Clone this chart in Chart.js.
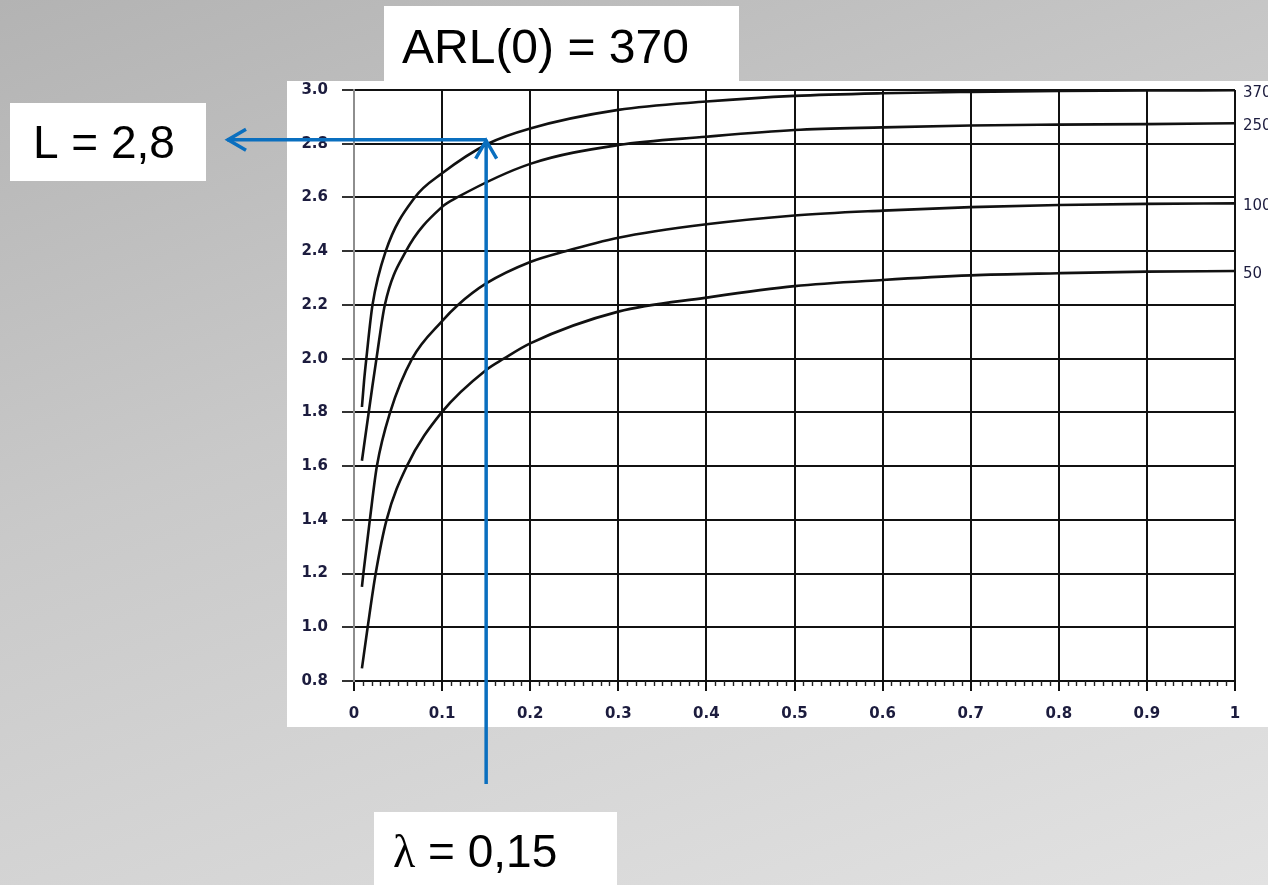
<!DOCTYPE html>
<html>
<head>
<meta charset="utf-8">
<script src="https://cdn.jsdelivr.net/npm/chart.js@4.4.1/dist/chart.umd.min.js"></script>
<style>
  html, body { margin: 0; padding: 0; }
  body {
    width: 1268px; height: 885px; overflow: hidden;
    background: linear-gradient(160deg, #b3b3b3 0%, #c9c9c9 40%, #e2e2e2 100%);
  }
  canvas { display: block; }
</style>
</head>
<body>
<canvas id="chart" width="1268" height="885"></canvas>
<script>
// EWMA design chart: control-limit width L against smoothing constant λ,
// one curve per in-control average run length ARL(0).
const arlLabels = ['370', '250', '100', '50'];

const lambda370 = [0.009, 0.0115, 0.014, 0.021, 0.036, 0.069, 0.1, 0.152, 0.2, 0.3, 0.4, 0.5, 0.6, 0.7, 0.8, 0.9, 1.0];
const limit370  = [1.82, 1.92, 2.0, 2.2, 2.4, 2.6, 2.69, 2.8, 2.857, 2.926, 2.957, 2.978, 2.988, 2.993, 2.996, 2.998, 2.999];

const lambda250 = [0.009, 0.021, 0.0255, 0.035, 0.059, 0.1, 0.117, 0.2, 0.3, 0.4, 0.5, 0.6, 0.7, 0.8, 0.9, 1.0];
const limit250  = [1.62, 1.90, 2.0, 2.2, 2.4, 2.565, 2.6, 2.725, 2.795, 2.826, 2.851, 2.861, 2.868, 2.871, 2.873, 2.876];

const lambda100 = [0.009, 0.0106, 0.018, 0.026, 0.041, 0.066, 0.1, 0.118, 0.15, 0.2, 0.24, 0.3, 0.4, 0.5, 0.6, 0.7, 0.8, 0.9, 1.0];
const limit100  = [1.15, 1.2, 1.4, 1.6, 1.8, 2.0, 2.14, 2.2, 2.28, 2.36, 2.4, 2.45, 2.50, 2.533, 2.551, 2.564, 2.572, 2.576, 2.578];

const lambda50 = [0.009, 0.0155, 0.0246, 0.037, 0.06, 0.0995, 0.15, 0.17, 0.2, 0.3, 0.4, 0.5, 0.6, 0.7, 0.8, 0.9, 1.0];
const limit50  = [0.847, 1.0, 1.2, 1.4, 1.6, 1.8, 1.958, 2.0, 2.057, 2.175, 2.227, 2.27, 2.293, 2.31, 2.318, 2.324, 2.326];

const xTickLabels = ['0', '0.1', '0.2', '0.3', '0.4', '0.5', '0.6', '0.7', '0.8', '0.9', '1'];
const yTickLabels = ['0.8', '1.0', '1.2', '1.4', '1.6', '1.8', '2.0', '2.2', '2.4', '2.6', '2.8', '3.0'];

// Chosen design point
const chosenLambda = 0.15;
const chosenL = 2.8;
const titleText = 'ARL(0) = 370';
const limitText = 'L = 2,8';
const lambdaSymbol = 'λ';
const lambdaText = ' = 0,15';

const curves = [
  [lambda370, limit370],
  [lambda250, limit250],
  [lambda100, limit100],
  [lambda50, limit50]
];

const INK = '#111111';
const LABEL_INK = '#1c1c3e';
const BLUE = '#0a6fbf';
const SANS = '"Liberation Sans", Arial, sans-serif';
const TICK_FONT = { family: '"DejaVu Sans", sans-serif', size: 15, weight: 'bold' };

const datasets = curves.map(([xs, ys], i) => ({
  label: arlLabels[i],
  data: xs.map((x, k) => ({ x: x, y: ys[k] })),
  borderColor: INK,
  borderWidth: 2.6,
  pointRadius: 0,
  fill: false,
  cubicInterpolationMode: 'monotone'
}));

// White sheet behind the plot
const sheetPlugin = {
  id: 'sheet',
  beforeDraw(chart) {
    const { ctx, chartArea: a } = chart;
    ctx.save();
    ctx.fillStyle = '#ffffff';
    ctx.fillRect(a.left - 67, a.top - 9, chart.width - (a.left - 67), a.bottom - a.top + 55);
    ctx.restore();
  }
};

// Minor ticks along the λ axis, labels at the curve ends, and the design-point annotation
const overlayPlugin = {
  id: 'overlay',
  afterDraw(chart) {
    const { ctx, chartArea: a } = chart;
    const xs = chart.scales.x, ys = chart.scales.y;
    ctx.save();

    // minor ticks every 0.01
    ctx.strokeStyle = '#222';
    ctx.lineWidth = 1.4;
    ctx.beginPath();
    for (let i = 1; i < 100; i++) {
      if (i % 10 === 0) continue;
      const px = Math.round(xs.getPixelForValue(i / 100)) + 0.5;
      ctx.moveTo(px, a.bottom);
      ctx.lineTo(px, a.bottom + 5);
    }
    ctx.stroke();

    // ARL labels to the right of each curve end
    ctx.fillStyle = LABEL_INK;
    ctx.font = '15px "DejaVu Sans", sans-serif';
    ctx.textBaseline = 'middle';
    ctx.textAlign = 'left';
    chart.data.datasets.forEach((ds) => {
      const last = ds.data[ds.data.length - 1];
      ctx.fillText(ds.label, a.right + 8, ys.getPixelForValue(last.y) + 3);
    });

    // design point
    const px = xs.getPixelForValue(chosenLambda);
    const py = ys.getPixelForValue(chosenL) - 4;
    const boxRightL = 206;
    const leftTip = boxRightL + 21;
    const bottomEnd = 784;

    ctx.strokeStyle = BLUE;
    ctx.lineWidth = 3.5;
    ctx.lineCap = 'butt';
    ctx.beginPath();
    ctx.moveTo(px, bottomEnd);
    ctx.lineTo(px, py);
    ctx.moveTo(px, py);
    ctx.lineTo(leftTip, py);
    ctx.stroke();

    // open arrow heads
    ctx.lineJoin = 'miter';
    ctx.beginPath();
    ctx.moveTo(px - 10.5, py + 19);
    ctx.lineTo(px, py + 1);
    ctx.lineTo(px + 10.5, py + 19);
    ctx.moveTo(leftTip + 19, py - 10.5);
    ctx.lineTo(leftTip + 1, py);
    ctx.lineTo(leftTip + 19, py + 10.5);
    ctx.stroke();

    // text boxes
    ctx.fillStyle = '#ffffff';
    ctx.fillRect(384, 6, 355, 76);
    ctx.fillRect(10, 103, boxRightL - 10, 78);
    ctx.fillRect(374, 812, 243, 80);

    ctx.fillStyle = '#000000';
    ctx.textBaseline = 'alphabetic';
    ctx.font = '48px ' + SANS;
    ctx.fillText(titleText, 402, 63);
    ctx.font = '46px ' + SANS;
    ctx.fillText(limitText, 33, 158);

    ctx.font = '46px "Liberation Serif", "Times New Roman", serif';
    ctx.fillText(lambdaSymbol, 393, 867);
    const w = ctx.measureText(lambdaSymbol).width;
    ctx.font = '46px ' + SANS;
    ctx.fillText(lambdaText, 393 + w, 867);

    ctx.restore();
  }
};

new Chart(document.getElementById('chart'), {
  type: 'line',
  data: { datasets: datasets },
  options: {
    responsive: false,
    devicePixelRatio: 1,
    animation: false,
    events: [],
    layout: { padding: { left: 287, top: 90, right: 33, bottom: 160 } },
    plugins: { legend: { display: false }, tooltip: { enabled: false } },
    scales: {
      x: {
        type: 'linear',
        min: 0, max: 1,
        afterFit(scale) { scale.height = 44; },
        ticks: {
          stepSize: 0.1,
          autoSkip: false,
          maxRotation: 0,
          padding: 14,
          color: LABEL_INK,
          font: TICK_FONT,
          callback: (v, i) => xTickLabels[i]
        },
        grid: {
          color: (c) => (c.tick && c.tick.value === 0 ? '#8e8e8e' : INK),
          lineWidth: 2,
          tickLength: 10,
          tickColor: INK
        },
        border: { color: INK, width: 2 }
      },
      y: {
        type: 'linear',
        min: 0.8, max: 3.0,
        afterFit(scale) { scale.width = 67; },
        ticks: {
          stepSize: 0.2,
          autoSkip: false,
          padding: 14,
          color: LABEL_INK,
          font: TICK_FONT,
          callback: (v, i) => yTickLabels[i]
        },
        grid: {
          color: INK,
          lineWidth: 2,
          tickLength: 12,
          tickColor: '#333'
        },
        border: { color: '#8e8e8e', width: 2 }
      }
    }
  },
  plugins: [sheetPlugin, overlayPlugin]
});
</script>
</body>
</html>
